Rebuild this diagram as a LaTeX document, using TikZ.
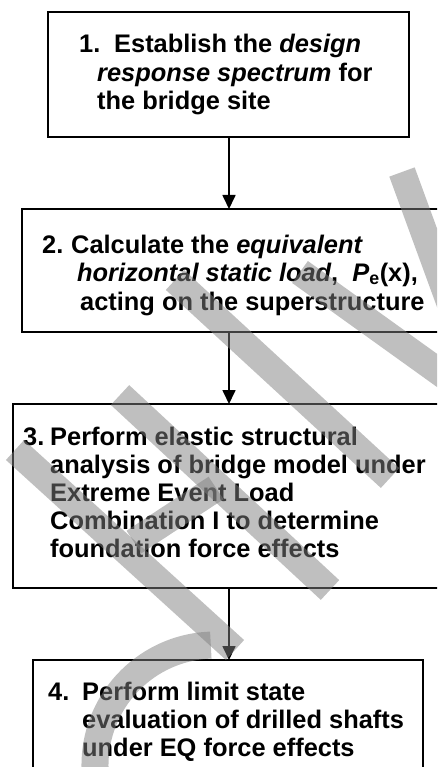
\documentclass[tikz,border=0pt]{standalone}
\usepackage{fontspec}
\setmainfont{Liberation Sans}
\usetikzlibrary{arrows.meta}
\begin{document}
\begin{tikzpicture}[x=1pt,y=-1pt,
  box/.style={draw=black, line width=2pt, fill=white},
  txt/.style={anchor=base west, inner sep=0pt, font=\fontsize{25.4}{28.5}\selectfont\bfseries},
  arr/.style={line width=1.7pt, -{Triangle[width=13pt,length=14pt]}},
  wm/.style={draw=gray, line width=27pt, opacity=0.5, line cap=butt}]
\useasboundingbox (0,0) rectangle (437,767);
\clip (0,0) rectangle (437,767);
% boxes
\draw[box] (48,12) rectangle (409,137);
\coordinate (b1s) at (229,137);
\draw[box] (22,209) rectangle (470,332);
\coordinate (b2n) at (229,209);
\coordinate (b2s) at (229,332);
\draw[box] (13,404) rectangle (470,588);
\coordinate (b3n) at (229,404);
\coordinate (b3s) at (229,588);
\draw[box] (33,660) rectangle (423,800);
\coordinate (b4n) at (229,660);
% arrows
\draw[arr] (b1s) -- (b2n);
\draw[arr] (b2s) -- (b3n);
\draw[arr] (b3s) -- (b4n);
% box 1
\node[txt] (n1) at (79,53) {1.};
\node[txt] (t1a) at (114,53) {Establish the \textit{design}};
\node[txt] (t1b) at (97,82) {\textit{response spectrum} for};
\node[txt] (t1c) at (97,110) {the bridge site};
% box 2
\node[txt] (n2) at (42,253) {2.};
\node[txt] (t2a) at (71,253) {Calculate the \textit{equivalent}};
\node[txt] (t2b) at (77,281) {\textit{horizontal static load},\ \ \textit{P}\textsubscript{e}(x),};
\node[txt] (t2c) at (80,310) {acting on the superstructure};
% box 3
\node[txt] (n3) at (23,445) {3.};
\node[txt] (t3a) at (50,445) {Perform elastic structural};
\node[txt] (t3b) at (50,473) {analysis of bridge model under};
\node[txt] (t3c) at (50,501) {Extreme Event Load};
\node[txt] (t3d) at (50,529) {Combination I to determine};
\node[txt] (t3e) at (50,557) {foundation force effects};
% box 4
\node[txt] (n4) at (48,700) {4.};
\node[txt] (t4a) at (82,700) {Perform limit state};
\node[txt] (t4b) at (82,728) {evaluation of drilled shafts};
\node[txt] (t4c) at (82,756) {under EQ force effects};
% watermark strokes
\coordinate (wc) at (215,765);
\draw[wm] (402,172) -- (500,440);
\draw[wm] (300,272) -- (520,430);
\draw[wm] (175,280) -- (390,478);
\draw[wm] (120,395) -- (330,590);
\draw[wm] (15,450) -- (235,650);
\draw[wm] (134,542) -- (216,488);
\draw[wm] (wc) ++(110:120) arc[start angle=110, end angle=268, radius=120];
\end{tikzpicture}
\end{document}
